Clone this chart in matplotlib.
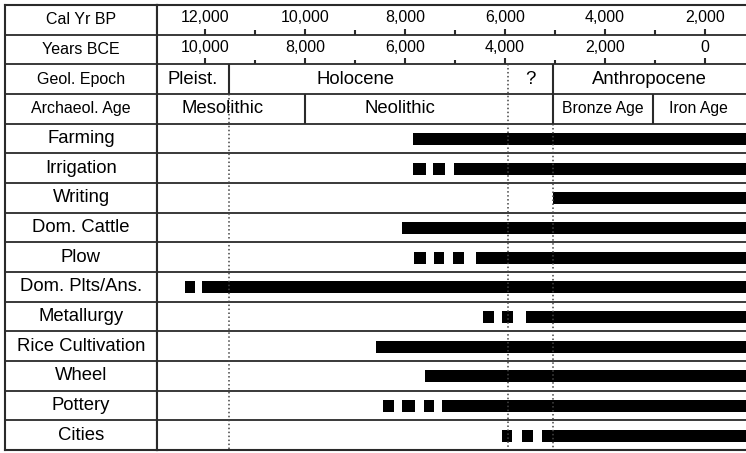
import matplotlib
matplotlib.use("Agg")
import matplotlib.pyplot as plt

plt.rcParams['font.family'] = ['Liberation Sans', 'DejaVu Sans']

# --- data (years before present, cal BP) ---
activities = ["Farming", "Irrigation", "Writing", "Dom. Cattle", "Plow",
              "Dom. Plts/Ans.", "Metallurgy", "Rice Cultivation", "Wheel",
              "Pottery", "Cities"]
bar_start_bp = [7840, 7020, 5040, 8060, 6580, 12060, 5580, 8580, 7600, 7260, 5260]
bar_end_bp = 0
# uncertain early evidence, drawn as small squares (start, end)
early_marks = {
    "Irrigation": [(7840, 7580), (7440, 7200)],
    "Plow": [(7820, 7580), (7420, 7220), (7040, 6820)],
    "Dom. Plts/Ans.": [(12400, 12200)],
    "Metallurgy": [(6440, 6220), (6060, 5840)],
    "Pottery": [(8440, 8220), (8060, 7800), (7620, 7420)],
    "Cities": [(6060, 5860), (5660, 5440)],
}

bp_major = [12000, 10000, 8000, 6000, 4000, 2000]
bp_minor = [11000, 9000, 7000, 5000, 3000]
bce_labels = [10000, 8000, 6000, 4000, 2000, 0]
bce_offset = 2000

header_names = ["Cal Yr BP", "Years BCE", "Geol. Epoch", "Archaeol. Age"]
epochs = ["Pleist.", "Holocene", "?", "Anthropocene"]
epoch_text_bp = [12240, 9000, 5500, 3120]
ages = ["Mesolithic", "Neolithic", "Bronze Age", "Iron Age"]
age_text_bp = [11640, 8100, 4040, 2140]

pleist_end = 11520
question_start = 5940
anthro_start = 5040
meso_end = 10000
bronze_end = 3040

# --- layout ---
W, H = 746, 453
fig = plt.figure(figsize=(W / 100, H / 100), dpi=100)
top, bottom = 5, 450
ax_lab = fig.add_axes([5 / W, 1 - bottom / H, (157 - 5) / W, (bottom - top) / H])
ax = fig.add_axes([157 / W, 1 - bottom / H, (W - 157) / W, (bottom - top) / H],
                  sharey=ax_lab)

n_rows = len(header_names) + len(activities)
ax.set_xlim(12960, 1180)
ax_lab.set_xlim(0, 1)
ax.set_ylim(n_rows, 0)

line_col = "#2a2a2a"
for a in (ax, ax_lab):
    a.set_xticks([])
    a.set_yticks([])
    for s in a.spines.values():
        s.set_color(line_col)
        s.set_linewidth(1.5)
    for y in range(1, n_rows):
        a.axhline(y, color=line_col, lw=1.3)
ax.spines["right"].set_visible(False)

# row labels
for i, name in enumerate(header_names):
    ax_lab.text(0.5, i + 0.5, name, ha="center", va="center", fontsize=11.5)
for i, name in enumerate(activities):
    ax_lab.text(0.5, len(header_names) + i + 0.5, name, ha="center",
                va="center", fontsize=13.3)

# time scale rows
for bp, bce in zip(bp_major, bce_labels):
    ax.text(bp, 0.42, f"{bp:,}", ha="center", va="center", fontsize=11.5)
    ax.text(bce + bce_offset, 1.42, f"{bce:,}", ha="center", va="center",
            fontsize=11.5)
for row in (1, 2):
    ax.vlines(bp_major, row - 0.2, row, color=line_col, lw=1.5)
    ax.vlines(bp_minor, row - 0.15, row, color=line_col, lw=1.5)

# epoch / age rows
for name, bp in zip(epochs, epoch_text_bp):
    ax.text(bp, 2.5, name, ha="center", va="center", fontsize=13.3)
for name, bp in zip(ages, age_text_bp):
    fs = 13.3 if name in ("Mesolithic", "Neolithic") else 11.3
    ax.text(bp, 3.5, name, ha="center", va="center", fontsize=fs)

ax.vlines(pleist_end, 2, 3, color=line_col, lw=1.5)
ax.vlines([meso_end, bronze_end], 3, 4, color=line_col, lw=1.5)
ax.vlines(anthro_start, 2, 4, color=line_col, lw=1.5)

dots = dict(color="#444444", lw=1.1, linestyles=(0, (1, 1.6)))
ax.vlines(pleist_end, 3, n_rows, **dots)
ax.vlines(question_start, 2, n_rows, **dots)
ax.vlines(anthro_start, 4, n_rows, **dots)

# activity bars
bar_h = 0.4
for i, name in enumerate(activities):
    yc = len(header_names) + i + 0.52
    start = bar_start_bp[i]
    ax.barh(yc, start - bar_end_bp, left=bar_end_bp, height=bar_h,
            color="black", edgecolor="none")
    for s, e in early_marks.get(name, []):
        ax.barh(yc, s - e, left=e, height=bar_h, color="black", edgecolor="none")

fig.savefig("out.png", dpi=100, facecolor="white")
